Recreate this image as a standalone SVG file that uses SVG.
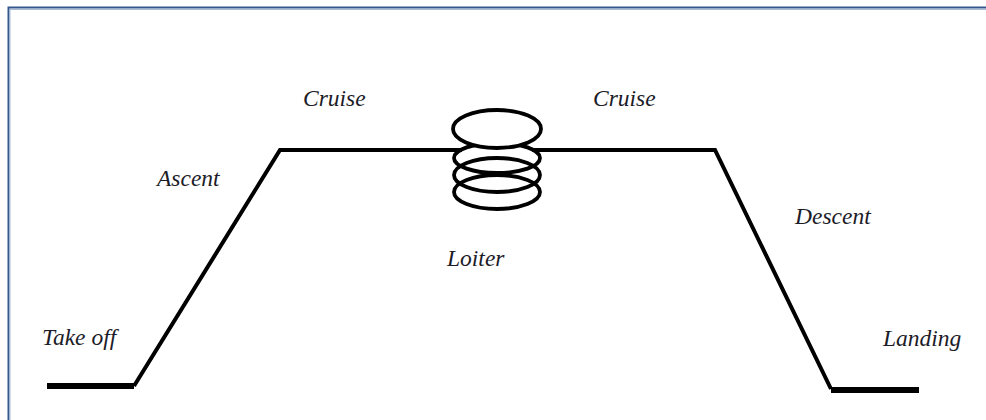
<svg xmlns="http://www.w3.org/2000/svg" width="986" height="420" viewBox="0 0 986 420">
<style>
.lbl{font-family:"Liberation Serif","Times New Roman",serif;font-style:italic;font-size:23.5px;fill:#1c1c28}
.path{fill:none;stroke:#000;stroke-width:4;stroke-linejoin:miter}
.coil{fill:none;stroke:#000;stroke-width:3.8}
</style>
<rect width="986" height="420" fill="#fff"/>
<g id="frame">
<path d="M8.5,420 V7.5 H986" fill="none" stroke="#34588c" stroke-width="2"/>
<path d="M10,420 V9.5 H986" fill="none" stroke="#a9bcd6" stroke-width="1"/>
</g>
<g id="connectors">
<path class="path" d="M134,386 L280,150 H462" />
<path class="path" d="M532,150 H715 L831,389" />
<path d="M47,386 H134" stroke="#000" stroke-width="6"/>
<path d="M831,390 H919" stroke="#000" stroke-width="6"/>
</g>
<g id="loiter-coil">
<ellipse class="coil" cx="497" cy="192" rx="43" ry="17"/>
<ellipse class="coil" cx="497" cy="175" rx="43" ry="17"/>
<ellipse class="coil" cx="497" cy="158" rx="43" ry="15"/>
<ellipse cx="497" cy="129" rx="44" ry="19" fill="#fff" stroke="#000" stroke-width="3.8"/>
</g>
<g id="labels">
<text class="lbl" x="303" y="106">Cruise</text>
<text class="lbl" x="593" y="106">Cruise</text>
<text class="lbl" x="157" y="186">Ascent</text>
<text class="lbl" x="447" y="266">Loiter</text>
<text class="lbl" x="795" y="224">Descent</text>
<text class="lbl" x="42" y="345">Take off</text>
<text class="lbl" x="883" y="346">Landing</text>
</g>
</svg>
